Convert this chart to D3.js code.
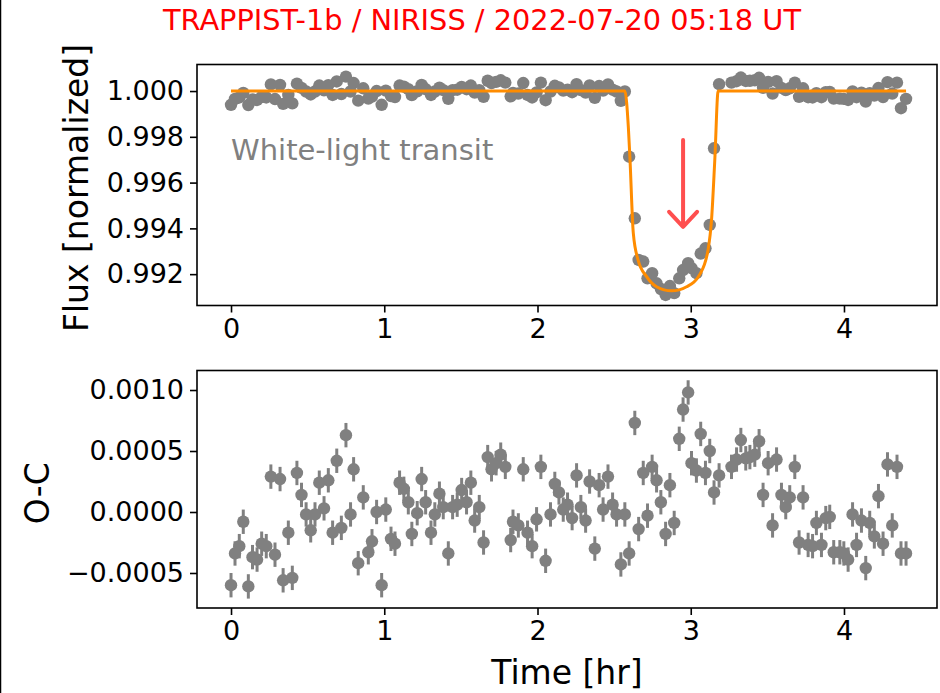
<!DOCTYPE html>
<html>
<head>
<meta charset="utf-8">
<script src="https://cdn.jsdelivr.net/npm/d3@7"></script>
<style>
  body { margin: 0; background: #fff; }
  svg { display: block; font-family: "DejaVu Sans", sans-serif; }
</style>
</head>
<body>
<svg id="chart" width="940" height="693"></svg>
<script>
// --- Data ---
const title = "TRAPPIST-1b / NIRISS / 2022-07-20 05:18 UT";
const note = "White-light transit";

const time = [0.000,0.026,0.054,0.080,0.113,0.140,0.170,0.200,0.230,0.260,0.287,0.320,0.340,0.374,0.400,0.430,0.460,0.490,0.520,0.548,
  0.576,0.607,0.635,0.663,0.690,0.720,0.750,0.780,0.800,0.830,0.863,0.896,0.920,0.950,0.983,1.010,1.044,1.070,1.100,1.128,
  1.157,1.180,1.215,1.244,1.270,1.305,1.330,1.360,1.385,1.418,1.446,1.476,1.505,1.537,1.565,1.590,1.620,1.648,1.675,1.700,
  1.730,1.760,1.790,1.825,1.840,1.875,1.907,1.935,1.965,1.994,2.022,2.053,2.085,2.113,2.140,2.168,2.196,2.226,2.255,2.283,
  2.314,2.340,2.374,2.402,2.428,2.460,2.490,2.516,2.544,2.570,2.598,2.635,2.660,2.690,2.718,2.748,2.777,2.805,2.836,2.864,
  2.892,2.925,2.950,2.983,3.005,3.037,3.065,3.096,3.124,3.152,3.185,3.266,3.299,3.327,3.359,3.386,3.418,3.446,3.472,3.505,
  3.534,3.560,3.592,3.620,3.646,3.679,3.707,3.733,3.766,3.795,3.820,3.853,3.881,3.907,3.933,3.973,3.999,4.027,4.056,4.082,
  4.114,4.142,4.168,4.198,4.225,4.255,4.284,4.315,4.346,4.372,4.405];

const flux = [0.99940,0.99966,0.99972,0.99992,0.99939,0.99963,0.99961,0.99974,0.99972,1.00029,0.99965,1.00027,0.99944,0.99983,0.99946,1.00032,1.00014,0.99998,0.99985,0.99998,
  1.00024,1.00003,1.00026,0.99983,1.00042,0.99987,1.00063,0.99998,1.00035,0.99958,1.00012,0.99967,0.99976,1.00000,0.99940,1.00002,0.99978,0.99974,1.00024,1.00019,
  1.00008,0.99982,0.99999,1.00027,1.00008,0.99983,0.99998,1.00015,1.00004,0.99966,1.00004,1.00006,1.00018,1.00008,1.00024,0.99993,1.00004,0.99975,1.00045,1.00035,
  1.00040,1.00047,1.00037,0.99977,0.99992,0.99989,1.00035,0.99983,0.99972,0.99994,1.00037,0.99960,0.99998,1.00023,1.00016,1.00002,1.00006,0.99995,1.00030,1.00004,
  0.99993,1.00025,0.99970,1.00022,1.00002,1.00029,1.00006,0.99998,0.99957,0.99998,0.99713,0.99444,0.99262,0.99255,0.99182,0.99204,0.99160,0.99135,0.99109,0.99148,
  0.99117,0.99182,0.99218,0.99248,0.99226,0.99204,0.99290,0.99313,0.99415,0.99750,1.00030,1.00037,1.00043,1.00059,1.00044,1.00045,1.00047,1.00058,1.00014,1.00040,
  0.99989,1.00043,1.00014,1.00004,1.00012,1.00037,0.99975,1.00012,0.99973,0.99972,0.99991,0.99973,0.99995,0.99996,0.99967,0.99967,0.99966,0.99961,0.99998,0.99973,
  0.99993,0.99954,0.99991,0.99980,1.00013,0.99974,1.00039,0.99989,1.00037,0.99925,0.99966];

const resid = [-0.00060,-0.00034,-0.00028,-0.00008,-0.00061,-0.00037,-0.00039,-0.00026,-0.00028,0.00029,-0.00035,0.00027,-0.00056,-0.00017,-0.00054,0.00032,0.00014,-0.00002,-0.00015,-0.00002,
  0.00024,0.00003,0.00026,-0.00017,0.00042,-0.00013,0.00063,-0.00002,0.00035,-0.00042,0.00012,-0.00033,-0.00024,0.00000,-0.00060,0.00002,-0.00022,-0.00026,0.00024,0.00019,
  0.00008,-0.00018,-0.00001,0.00027,0.00008,-0.00017,-0.00002,0.00015,0.00004,-0.00034,0.00004,0.00006,0.00018,0.00008,0.00024,-0.00007,0.00004,-0.00025,0.00045,0.00035,
  0.00040,0.00047,0.00037,-0.00023,-0.00008,-0.00011,0.00035,-0.00017,-0.00028,-0.00006,0.00037,-0.00040,-0.00002,0.00023,0.00016,0.00002,0.00006,-0.00005,0.00030,0.00004,
  -0.00007,0.00025,-0.00030,0.00022,0.00002,0.00029,0.00006,-0.00002,-0.00043,-0.00002,-0.00034,0.00073,-0.00014,0.00032,-0.00003,0.00037,0.00026,0.00008,-0.00018,0.00022,
  -0.00009,0.00060,0.00084,0.00098,0.00040,0.00034,0.00064,0.00032,0.00050,0.00016,0.00030,0.00037,0.00043,0.00059,0.00044,0.00045,0.00047,0.00058,0.00014,0.00040,
  -0.00011,0.00043,0.00014,0.00004,0.00012,0.00037,-0.00025,0.00012,-0.00027,-0.00028,-0.00009,-0.00027,-0.00005,-0.00004,-0.00033,-0.00033,-0.00034,-0.00039,-0.00002,-0.00027,
  -0.00007,-0.00046,-0.00009,-0.00020,0.00013,-0.00026,0.00039,-0.00011,0.00037,-0.00034,-0.00034];

const ocErr = 0.0001;

const modelTime = [0.000,2.570,2.593,2.603,2.625,2.657,2.711,2.777,2.875,2.973,3.060,3.114,3.136,3.157,3.179,4.405];
const modelFlux = [1.0000,1.0000,0.9984,0.9971,0.9938,0.9926,0.9919,0.99145,0.99127,0.99145,0.9920,0.9931,0.9944,0.9970,1.0000,1.0000];

const arrowTime = 2.95;
const arrowFlux = [0.99786, 0.99407];

const xTicks = [0, 1, 2, 3, 4];
const fluxTicks = [0.992, 0.994, 0.996, 0.998, 1.000];
const ocTicks = [-0.0005, 0.0, 0.0005, 0.0010];

// --- Layout ---
const svg = d3.select("#chart");
const left = 197, right = 937;
const top1 = 64.5, bot1 = 305.5, top2 = 370.5, bot2 = 608;
const grey = "#808080";
const tickFont = "27px";
const labelFont = "33px";

const x = d3.scaleLinear().domain([-0.222, 4.607]).range([left, right]);
const yFlux = d3.scaleLinear().domain([0.99063, 1.00116]).range([bot1, top1]);
const yOC = d3.scaleLinear().domain([-0.000787, 0.00116]).range([bot2, top2]);

// image edge line on the left
svg.append("line").attr("x1", 0.5).attr("x2", 0.5).attr("y1", 0).attr("y2", 693)
  .attr("stroke", "#000").attr("stroke-width", 1.5);

function styleAxis(g) {
  g.select(".domain").remove();
  g.selectAll(".tick line").attr("stroke", "#000").attr("stroke-width", 1.6);
  g.selectAll(".tick text").attr("fill", "#000").style("font-size", tickFont)
    .style("font-family", '"DejaVu Sans", sans-serif');
}

function frame(y0, y1) {
  svg.append("rect").attr("x", left).attr("y", y0)
    .attr("width", right - left).attr("height", y1 - y0)
    .attr("fill", "none").attr("stroke", "#000").attr("stroke-width", 1.6);
}

// --- Top panel: flux ---
const pts = time.map((t, i) => ({ t, f: flux[i], r: resid[i] }));

svg.append("g").selectAll("circle").data(pts).enter().append("circle")
  .attr("cx", d => x(d.t)).attr("cy", d => yFlux(d.f)).attr("r", 6.2).attr("fill", grey);

const model = modelTime.map((t, i) => [t, modelFlux[i]]);
svg.append("path")
  .attr("d", d3.line().x(d => x(d[0])).y(d => yFlux(d[1])).curve(d3.curveMonotoneX)(model))
  .attr("fill", "none").attr("stroke", "#ff8c00").attr("stroke-width", 3);

// arrow pointing at the transit dip
const ax = x(arrowTime), ay0 = yFlux(arrowFlux[0]), ay1 = yFlux(arrowFlux[1]);
svg.append("path")
  .attr("d", `M${ax},${ay0}L${ax},${ay1}M${ax - 14},${ay1 - 15}L${ax},${ay1}L${ax + 14},${ay1 - 15}`)
  .attr("fill", "none").attr("stroke", "#ff4f4f").attr("stroke-width", 4)
  .attr("stroke-linecap", "round").attr("stroke-linejoin", "round");

svg.append("text").attr("x", x(0)).attr("y", yFlux(0.99700))
  .attr("fill", grey).style("font-size", "29px").text(note);

frame(top1, bot1);
svg.append("g").attr("transform", `translate(0,${bot1})`)
  .call(d3.axisBottom(x).tickValues(xTicks).tickFormat(d3.format("d")).tickSize(7).tickPadding(6))
  .call(styleAxis);
svg.append("g").attr("transform", `translate(${left},0)`)
  .call(d3.axisLeft(yFlux).tickValues(fluxTicks).tickFormat(d3.format(".3f")).tickSize(7).tickPadding(6))
  .call(styleAxis);

// --- Bottom panel: O-C ---
svg.append("g").selectAll("line").data(pts).enter().append("line")
  .attr("x1", d => x(d.t)).attr("x2", d => x(d.t))
  .attr("y1", d => yOC(d.r - ocErr)).attr("y2", d => yOC(d.r + ocErr))
  .attr("stroke", grey).attr("stroke-width", 3);
svg.append("g").selectAll("circle").data(pts).enter().append("circle")
  .attr("cx", d => x(d.t)).attr("cy", d => yOC(d.r)).attr("r", 6.2).attr("fill", grey);

frame(top2, bot2);
svg.append("g").attr("transform", `translate(0,${bot2})`)
  .call(d3.axisBottom(x).tickValues(xTicks).tickFormat(d3.format("d")).tickSize(7).tickPadding(6))
  .call(styleAxis);
svg.append("g").attr("transform", `translate(${left},0)`)
  .call(d3.axisLeft(yOC).tickValues(ocTicks).tickFormat(d3.format(".4f")).tickSize(7).tickPadding(6))
  .call(styleAxis);

// --- Titles and labels ---
svg.append("text").attr("x", 482).attr("y", 30).attr("text-anchor", "middle")
  .attr("fill", "#ff0000").style("font-size", "28.8px").text(title);

svg.append("text").attr("transform", `translate(88,188) rotate(-90)`)
  .attr("text-anchor", "middle").style("font-size", labelFont).text("Flux [normalized]");

svg.append("text").attr("transform", `translate(49,${(top2 + bot2) / 2 + 4}) rotate(-90)`)
  .attr("text-anchor", "middle").style("font-size", labelFont).text("O-C");

svg.append("text").attr("x", (left + right) / 2).attr("y", 684).attr("text-anchor", "middle")
  .style("font-size", labelFont).text("Time [hr]");
</script>
</body>
</html>
